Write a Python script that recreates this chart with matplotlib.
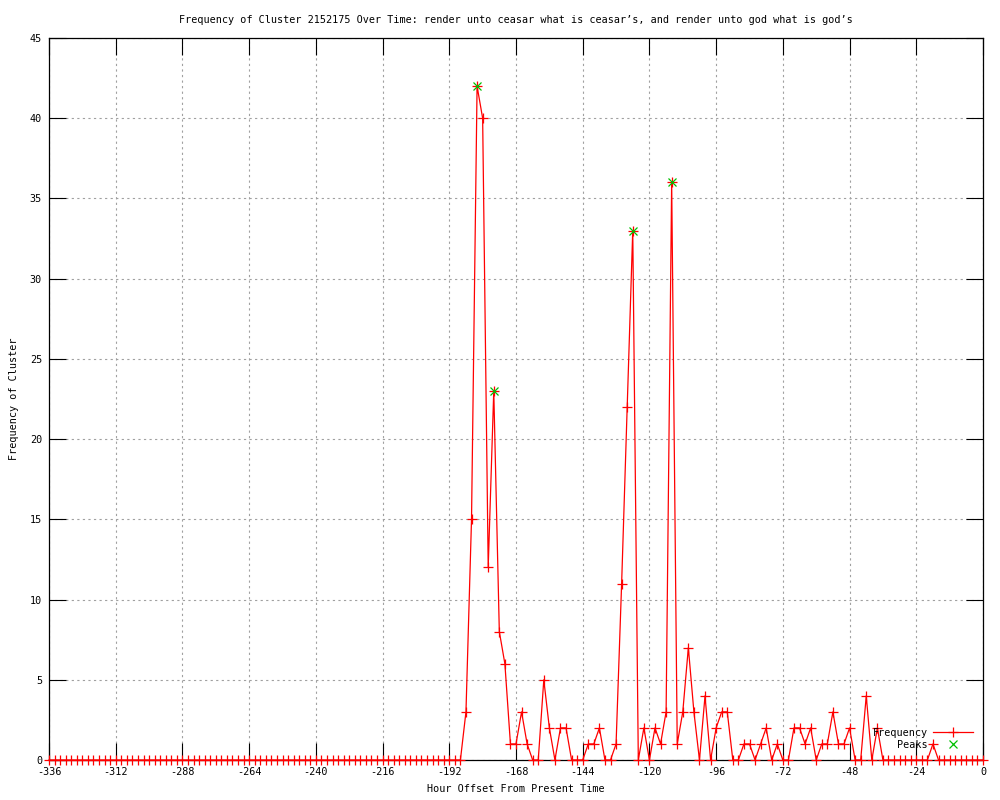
import matplotlib
matplotlib.use("Agg")
import matplotlib.pyplot as plt
from matplotlib.lines import Line2D

# ---- data ----
hours = list(range(-336, 1, 2))
frequency = (
    [0] * 75 +                                   # -336 .. -188
    [3, 15, 42, 40, 12, 23, 8, 6, 1, 1,         # -186 .. -168
     3, 1, 0, 0, 5, 2, 0, 2, 2, 0,              # -166 .. -148
     0, 0, 1, 1, 2, 0, 0, 1, 11, 22,            # -146 .. -128
     33, 0, 2, 0, 2, 1, 3, 36, 1, 3,            # -126 .. -108
     7, 3, 0, 4, 0, 2, 3, 3, 0, 0,              # -106 .. -88
     1, 1, 0, 1, 2, 0, 1, 0, 0, 2,              # -86 .. -68
     2, 1, 2, 0, 1, 1, 3, 1, 1, 2,              # -66 .. -48
     0, 0, 4, 0, 2, 0, 0, 0, 0, 0,              # -46 .. -28
     0, 0, 0, 0, 1, 0, 0, 0, 0, 0,              # -26 .. -8
     0, 0, 0, 0]                                # -6 .. 0
)
peak_hours = [-182, -176, -126, -112]
peak_values = [42, 23, 33, 36]

x_ticks = list(range(-336, 1, 24))
y_ticks = list(range(0, 46, 5))

title = ("Frequency of Cluster 2152175 Over Time: render unto ceasar what is "
         "ceasar\u2019s, and render unto god what is god\u2019s")
xlabel = "Hour Offset From Present Time"
ylabel = "Frequency of Cluster"

# ---- style ----
FONT = "DejaVu Sans Mono"
FS = 7.3
plt.rcParams["font.family"] = [FONT, "DejaVu Sans"]
plt.rcParams["font.size"] = FS

fig = plt.figure(figsize=(10, 8), dpi=100)
ax = fig.add_axes([0.049, 0.05, 0.934, 0.9025])

red = "#ff0000"
green = "#00c000"

ax.plot(hours, frequency, color=red, lw=0.9, marker="+", ms=6.5, mew=0.9,
        zorder=3, clip_on=False)
ax.plot(peak_hours, peak_values, ls="none", color=green, marker="x", ms=5.5,
        mew=0.9, zorder=4)

ax.set_xlim(-336, 0)
ax.set_ylim(0, 45)
ax.set_xticks(x_ticks)
ax.set_yticks(y_ticks)
ax.set_xticklabels([str(t) for t in x_ticks])

ax.grid(True, color="#a0a0a0", lw=0.8, ls=(0, (2, 3)))
ax.set_axisbelow(True)
ax.tick_params(direction="in", length=12, width=0.8, top=True, right=True,
               labelsize=FS, pad=5, colors="black")
for s in ax.spines.values():
    s.set_linewidth(0.9)
    s.set_color("black")

ax.set_title(title, fontsize=FS, pad=11)
ax.set_xlabel(xlabel, fontsize=FS, labelpad=5)
ax.set_ylabel(ylabel, fontsize=FS, labelpad=8)

# ---- legend (two single-entry legends so the texts are right-aligned) ----
h1 = Line2D([], [], color=red, lw=0.9, marker="+", ms=6.5, mew=0.9)
h2 = Line2D([], [], color=green, ls="none", marker="x", ms=5.5, mew=0.9)
common = dict(loc="center right", frameon=False, markerfirst=False,
              borderpad=0, borderaxespad=0, handlelength=3.9,
              handletextpad=0.5, fontsize=FS)
leg1 = ax.legend([h1], ["Frequency"], bbox_to_anchor=(0.989, 0.0374), **common)
ax.add_artist(leg1)
leg2 = ax.legend([h2], ["Peaks"], bbox_to_anchor=(0.989, 0.0208), **common)

fig.savefig("out.png", dpi=100)
